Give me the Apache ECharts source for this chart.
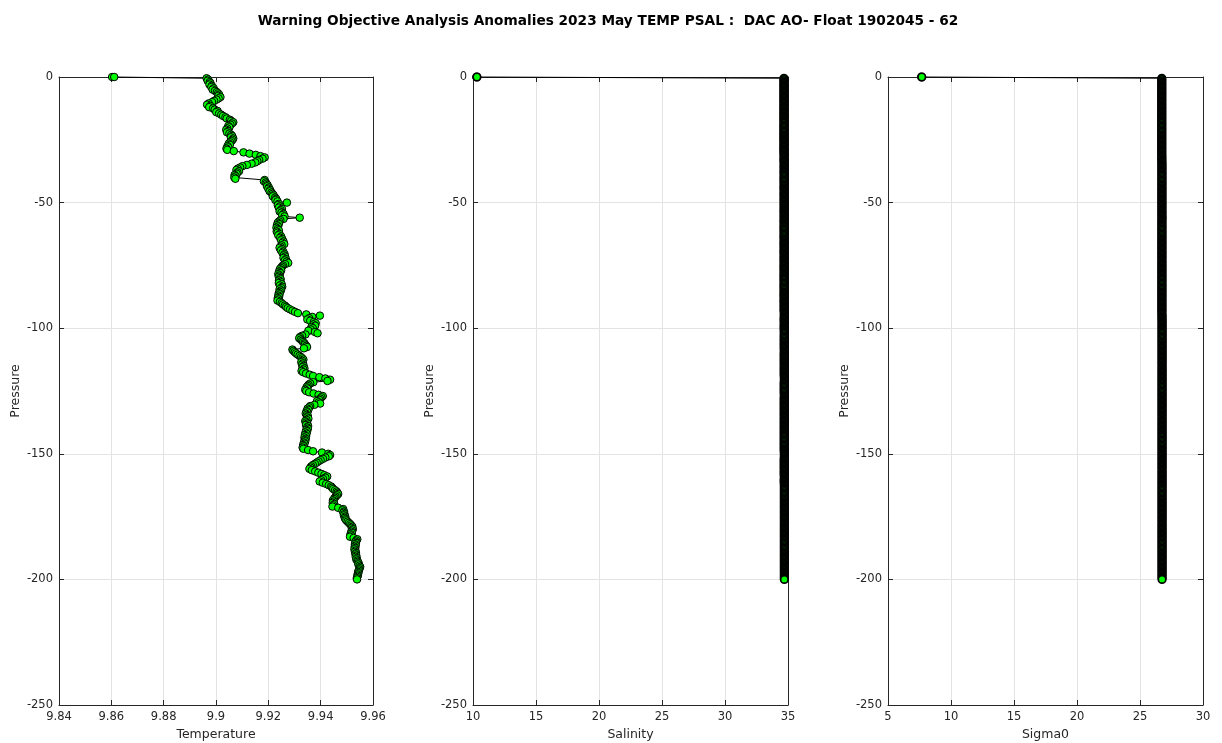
<!DOCTYPE html>
<html>
<head>
<meta charset="utf-8">
<title>TEMP PSAL profile</title>
<script src="https://cdn.jsdelivr.net/npm/echarts@6/dist/echarts.min.js"></script>
<style>
  html, body { margin: 0; padding: 0; background: #ffffff; }
  #chart { width: 1222px; height: 743px; }
</style>
</head>
<body>
<div id="chart"></div>
<script>
// Pressure levels (dbar, negative downward): two surface samples, then 0.5 dbar bins
const pressure = [
  0, 0,
  -0.5, -1, -1.5, -2, -2.5, -3, -3.5, -4, -4.5, -5,
  -5.5, -6, -6.5, -7, -7.5, -8, -8.5, -9, -9.5, -10,
  -10.5, -11, -11.5, -12, -12.5, -13, -13.5, -14, -14.5, -15,
  -15.5, -16, -16.5, -17, -17.5, -18, -18.5, -19, -19.5, -20,
  -20.5, -21, -21.5, -22, -22.5, -23, -23.5, -24, -24.5, -25,
  -25.5, -26, -26.5, -27, -27.5, -28, -28.5, -29, -29.5, -30,
  -30.5, -31, -31.5, -32, -32.5, -33, -33.5, -34, -34.5, -35,
  -35.5, -36, -36.5, -37, -37.5, -38, -38.5, -39, -39.5, -40,
  -40.5, -41, -41.5, -42, -42.5, -43, -43.5, -44, -44.5, -45,
  -45.5, -46, -46.5, -47, -47.5, -48, -48.5, -49, -49.5, -50,
  -50.5, -51, -51.5, -52, -52.5, -53, -53.5, -54, -54.5, -55,
  -55.5, -56, -56.5, -57, -57.5, -58, -58.5, -59, -59.5, -60,
  -60.5, -61, -61.5, -62, -62.5, -63, -63.5, -64, -64.5, -65,
  -65.5, -66, -66.5, -67, -67.5, -68, -68.5, -69, -69.5, -70,
  -70.5, -71, -71.5, -72, -72.5, -73, -73.5, -74, -74.5, -75,
  -75.5, -76, -76.5, -77, -77.5, -78, -78.5, -79, -79.5, -80,
  -80.5, -81, -81.5, -82, -82.5, -83, -83.5, -84, -84.5, -85,
  -85.5, -86, -86.5, -87, -87.5, -88, -88.5, -89, -89.5, -90,
  -90.5, -91, -91.5, -92, -92.5, -93, -93.5, -94, -94.5, -95,
  -95.5, -96, -96.5, -97, -97.5, -98, -98.5, -99, -99.5, -100,
  -100.5, -101, -101.5, -102, -102.5, -103, -103.5, -104, -104.5, -105,
  -105.5, -106, -106.5, -107, -107.5, -108, -108.5, -109, -109.5, -110,
  -110.5, -111, -111.5, -112, -112.5, -113, -113.5, -114, -114.5, -115,
  -115.5, -116, -116.5, -117, -117.5, -118, -118.5, -119, -119.5, -120,
  -120.5, -121, -121.5, -122, -122.5, -123, -123.5, -124, -124.5, -125,
  -125.5, -126, -126.5, -127, -127.5, -128, -128.5, -129, -129.5, -130,
  -130.5, -131, -131.5, -132, -132.5, -133, -133.5, -134, -134.5, -135,
  -135.5, -136, -136.5, -137, -137.5, -138, -138.5, -139, -139.5, -140,
  -140.5, -141, -141.5, -142, -142.5, -143, -143.5, -144, -144.5, -145,
  -145.5, -146, -146.5, -147, -147.5, -148, -148.5, -149, -149.5, -150,
  -150.5, -151, -151.5, -152, -152.5, -153, -153.5, -154, -154.5, -155,
  -155.5, -156, -156.5, -157, -157.5, -158, -158.5, -159, -159.5, -160,
  -160.5, -161, -161.5, -162, -162.5, -163, -163.5, -164, -164.5, -165,
  -165.5, -166, -166.5, -167, -167.5, -168, -168.5, -169, -169.5, -170,
  -170.5, -171, -171.5, -172, -172.5, -173, -173.5, -174, -174.5, -175,
  -175.5, -176, -176.5, -177, -177.5, -178, -178.5, -179, -179.5, -180,
  -180.5, -181, -181.5, -182, -182.5, -183, -183.5, -184, -184.5, -185,
  -185.5, -186, -186.5, -187, -187.5, -188, -188.5, -189, -189.5, -190,
  -190.5, -191, -191.5, -192, -192.5, -193, -193.5, -194, -194.5, -195,
  -195.5, -196, -196.5, -197, -197.5, -198, -198.5, -199, -199.5, -200
];

// Temperature anomaly profile
const temperature = [
  9.8603, 9.8611,
  9.8964, 9.8970, 9.8968, 9.8976, 9.8979, 9.8975, 9.8984, 9.8982, 9.8991, 9.8987,
  9.8996, 9.9003, 9.9008, 9.9012, 9.9009, 9.9017, 9.9010, 9.9002, 9.8993, 9.8985,
  9.8972, 9.8966, 9.8978, 9.8974, 9.8989, 9.8995, 9.9006, 9.9001, 9.9012, 9.9020,
  9.9027, 9.9036, 9.9041, 9.9053, 9.9058, 9.9066, 9.9061, 9.9055, 9.9047, 9.9051,
  9.9043, 9.9039, 9.9046, 9.9042, 9.9051, 9.9058, 9.9062, 9.9057, 9.9066, 9.9063,
  9.9059, 9.9054, 9.9049, 9.9053, 9.9044, 9.9047, 9.9040, 9.9043, 9.9068, 9.9105,
  9.9128, 9.9152, 9.9170, 9.9186, 9.9178, 9.9165, 9.9158, 9.9150, 9.9136, 9.9118,
  9.9101, 9.9092, 9.9083, 9.9078, 9.9088, 9.9082, 9.9079, 9.9071, 9.9075, 9.9070,
  9.9074, 9.9186, 9.9183, 9.9190, 9.9193, 9.9197, 9.9195, 9.9202, 9.9200, 9.9207,
  9.9205, 9.9212, 9.9216, 9.9220, 9.9217, 9.9226, 9.9230, 9.9227, 9.9235, 9.9271,
  9.9240, 9.9236, 9.9244, 9.9240, 9.9252, 9.9247, 9.9243, 9.9250, 9.9258, 9.9253,
  9.9262, 9.9320, 9.9258, 9.9246, 9.9241, 9.9236, 9.9240, 9.9233, 9.9237, 9.9231,
  9.9236, 9.9240, 9.9232, 9.9235, 9.9243, 9.9238, 9.9249, 9.9245, 9.9253, 9.9249,
  9.9258, 9.9254, 9.9261, 9.9251, 9.9246, 9.9243, 9.9252, 9.9248, 9.9257, 9.9254,
  9.9262, 9.9259, 9.9264, 9.9258, 9.9267, 9.9263, 9.9270, 9.9276, 9.9264, 9.9256,
  9.9252, 9.9248, 9.9244, 9.9249, 9.9241, 9.9245, 9.9238, 9.9242, 9.9240, 9.9245,
  9.9247, 9.9241, 9.9246, 9.9240, 9.9251, 9.9244, 9.9253, 9.9249, 9.9243, 9.9248,
  9.9244, 9.9240, 9.9243, 9.9238, 9.9241, 9.9236, 9.9239, 9.9235, 9.9244, 9.9251,
  9.9256, 9.9263, 9.9268, 9.9274, 9.9283, 9.9292, 9.9302, 9.9313, 9.9345, 9.9397,
  9.9368, 9.9356, 9.9349, 9.9360, 9.9374, 9.9381, 9.9372, 9.9379, 9.9365, 9.9370,
  9.9362, 9.9353, 9.9378, 9.9388, 9.9342, 9.9329, 9.9321, 9.9318, 9.9324, 9.9329,
  9.9333, 9.9338, 9.9340, 9.9345, 9.9348, 9.9336, 9.9292, 9.9296, 9.9301, 9.9306,
  9.9312, 9.9319, 9.9325, 9.9330, 9.9334, 9.9330, 9.9326, 9.9332, 9.9329, 9.9335,
  9.9331, 9.9338, 9.9334, 9.9327, 9.9333, 9.9344, 9.9358, 9.9371, 9.9395, 9.9418,
  9.9436, 9.9426, 9.9372, 9.9360, 9.9354, 9.9350, 9.9346, 9.9349, 9.9341, 9.9345,
  9.9356, 9.9373, 9.9392, 9.9408, 9.9403, 9.9398, 9.9394, 9.9386, 9.9393, 9.9398,
  9.9376, 9.9360, 9.9356, 9.9350, 9.9353, 9.9346, 9.9349, 9.9343, 9.9347, 9.9351,
  9.9348, 9.9353, 9.9346, 9.9341, 9.9345, 9.9349, 9.9344, 9.9352, 9.9348, 9.9351,
  9.9345, 9.9348, 9.9342, 9.9346, 9.9340, 9.9344, 9.9338, 9.9343, 9.9339, 9.9341,
  9.9336, 9.9338, 9.9333, 9.9335, 9.9331, 9.9334, 9.9352, 9.9371, 9.9405, 9.9429,
  9.9436, 9.9431, 9.9418, 9.9409, 9.9400, 9.9392, 9.9385, 9.9378, 9.9370, 9.9364,
  9.9361, 9.9357, 9.9366, 9.9379, 9.9391, 9.9403, 9.9414, 9.9425, 9.9418, 9.9409,
  9.9402, 9.9396, 9.9408, 9.9421, 9.9431, 9.9440, 9.9444, 9.9448, 9.9455, 9.9461,
  9.9464, 9.9467, 9.9462, 9.9457, 9.9454, 9.9451, 9.9447, 9.9450, 9.9446, 9.9452,
  9.9448, 9.9445, 9.9467, 9.9486, 9.9483, 9.9489, 9.9487, 9.9491, 9.9489, 9.9494,
  9.9492, 9.9495, 9.9498, 9.9503, 9.9508, 9.9513, 9.9517, 9.9521, 9.9519, 9.9523,
  9.9520, 9.9517, 9.9519, 9.9514, 9.9516, 9.9512, 9.9526, 9.9540, 9.9536, 9.9533,
  9.9535, 9.9531, 9.9534, 9.9530, 9.9532, 9.9529, 9.9533, 9.9531, 9.9535, 9.9533,
  9.9536, 9.9534, 9.9538, 9.9536, 9.9540, 9.9542, 9.9545, 9.9544, 9.9548, 9.9551,
  9.9549, 9.9547, 9.9546, 9.9543, 9.9544, 9.9541, 9.9542, 9.9540, 9.9538, 9.9539
];

// Salinity anomaly profile
const salinity = [
  10.30, 10.31,
  34.68, 34.68, 34.68, 34.68, 34.68, 34.68, 34.68, 34.68, 34.68, 34.68,
  34.68, 34.68, 34.68, 34.68, 34.68, 34.68, 34.68, 34.68, 34.68, 34.68,
  34.68, 34.68, 34.68, 34.68, 34.68, 34.68, 34.68, 34.68, 34.68, 34.68,
  34.68, 34.68, 34.68, 34.68, 34.68, 34.69, 34.68, 34.68, 34.68, 34.68,
  34.68, 34.68, 34.68, 34.68, 34.68, 34.68, 34.68, 34.68, 34.68, 34.68,
  34.68, 34.68, 34.69, 34.68, 34.68, 34.68, 34.68, 34.68, 34.68, 34.68,
  34.69, 34.68, 34.69, 34.69, 34.69, 34.68, 34.69, 34.69, 34.70, 34.69,
  34.69, 34.69, 34.70, 34.69, 34.69, 34.69, 34.69, 34.70, 34.69, 34.69,
  34.69, 34.69, 34.69, 34.69, 34.70, 34.69, 34.69, 34.69, 34.69, 34.69,
  34.70, 34.69, 34.69, 34.69, 34.69, 34.70, 34.69, 34.69, 34.69, 34.70,
  34.69, 34.69, 34.70, 34.69, 34.69, 34.69, 34.69, 34.69, 34.70, 34.69,
  34.69, 34.70, 34.69, 34.69, 34.69, 34.69, 34.70, 34.69, 34.69, 34.69,
  34.69, 34.69, 34.69, 34.70, 34.69, 34.69, 34.69, 34.69, 34.69, 34.70,
  34.69, 34.69, 34.69, 34.69, 34.69, 34.70, 34.69, 34.69, 34.69, 34.69,
  34.69, 34.70, 34.69, 34.69, 34.69, 34.69, 34.69, 34.70, 34.69, 34.69,
  34.69, 34.69, 34.69, 34.69, 34.70, 34.69, 34.69, 34.69, 34.69, 34.69,
  34.69, 34.69, 34.70, 34.69, 34.69, 34.69, 34.69, 34.69, 34.69, 34.70,
  34.69, 34.69, 34.69, 34.69, 34.69, 34.70, 34.69, 34.69, 34.69, 34.69,
  34.70, 34.69, 34.69, 34.70, 34.69, 34.69, 34.70, 34.70, 34.71, 34.70,
  34.70, 34.70, 34.69, 34.70, 34.70, 34.70, 34.70, 34.70, 34.69, 34.70,
  34.70, 34.70, 34.70, 34.71, 34.70, 34.70, 34.70, 34.70, 34.70, 34.70,
  34.70, 34.70, 34.70, 34.70, 34.70, 34.70, 34.70, 34.71, 34.70, 34.70,
  34.70, 34.70, 34.70, 34.70, 34.70, 34.70, 34.70, 34.70, 34.70, 34.70,
  34.70, 34.70, 34.70, 34.70, 34.70, 34.70, 34.70, 34.70, 34.71, 34.71,
  34.71, 34.71, 34.70, 34.70, 34.70, 34.70, 34.70, 34.70, 34.70, 34.70,
  34.70, 34.70, 34.71, 34.71, 34.70, 34.70, 34.70, 34.70, 34.70, 34.70,
  34.70, 34.70, 34.70, 34.70, 34.70, 34.70, 34.70, 34.70, 34.70, 34.70,
  34.70, 34.70, 34.70, 34.70, 34.70, 34.70, 34.70, 34.70, 34.70, 34.70,
  34.70, 34.70, 34.70, 34.70, 34.70, 34.70, 34.70, 34.70, 34.70, 34.70,
  34.70, 34.70, 34.70, 34.70, 34.70, 34.70, 34.70, 34.70, 34.71, 34.71,
  34.71, 34.71, 34.71, 34.70, 34.70, 34.70, 34.70, 34.70, 34.70, 34.70,
  34.70, 34.70, 34.70, 34.70, 34.70, 34.70, 34.70, 34.71, 34.71, 34.70,
  34.70, 34.70, 34.70, 34.71, 34.71, 34.71, 34.71, 34.71, 34.71, 34.71,
  34.71, 34.71, 34.71, 34.71, 34.71, 34.71, 34.71, 34.71, 34.71, 34.71,
  34.71, 34.71, 34.71, 34.71, 34.71, 34.71, 34.71, 34.71, 34.71, 34.71,
  34.71, 34.71, 34.71, 34.71, 34.71, 34.71, 34.71, 34.71, 34.71, 34.71,
  34.71, 34.71, 34.71, 34.71, 34.71, 34.71, 34.71, 34.71, 34.71, 34.71,
  34.71, 34.71, 34.71, 34.71, 34.71, 34.71, 34.71, 34.71, 34.71, 34.71,
  34.71, 34.71, 34.71, 34.71, 34.71, 34.71, 34.71, 34.71, 34.71, 34.71,
  34.71, 34.71, 34.71, 34.71, 34.71, 34.71, 34.71, 34.71, 34.71, 34.71
];

// Potential density anomaly profile
const sigma0 = [
  7.67, 7.68,
  26.73, 26.73, 26.73, 26.73, 26.73, 26.73, 26.73, 26.73, 26.73, 26.73,
  26.73, 26.73, 26.73, 26.73, 26.73, 26.73, 26.73, 26.73, 26.73, 26.73,
  26.73, 26.73, 26.73, 26.73, 26.73, 26.73, 26.73, 26.73, 26.73, 26.73,
  26.73, 26.73, 26.73, 26.73, 26.73, 26.73, 26.73, 26.73, 26.73, 26.73,
  26.73, 26.73, 26.73, 26.73, 26.73, 26.73, 26.73, 26.73, 26.73, 26.73,
  26.73, 26.73, 26.73, 26.73, 26.73, 26.73, 26.73, 26.73, 26.73, 26.73,
  26.73, 26.73, 26.74, 26.73, 26.73, 26.74, 26.73, 26.74, 26.74, 26.74,
  26.74, 26.74, 26.74, 26.74, 26.74, 26.74, 26.74, 26.74, 26.74, 26.74,
  26.74, 26.74, 26.74, 26.74, 26.74, 26.74, 26.74, 26.74, 26.74, 26.74,
  26.74, 26.74, 26.74, 26.74, 26.74, 26.74, 26.74, 26.74, 26.74, 26.74,
  26.74, 26.74, 26.74, 26.74, 26.74, 26.74, 26.74, 26.74, 26.74, 26.74,
  26.74, 26.75, 26.74, 26.74, 26.74, 26.74, 26.74, 26.74, 26.74, 26.74,
  26.74, 26.74, 26.74, 26.74, 26.74, 26.74, 26.74, 26.74, 26.74, 26.74,
  26.74, 26.74, 26.74, 26.74, 26.74, 26.74, 26.74, 26.74, 26.74, 26.74,
  26.74, 26.74, 26.74, 26.74, 26.74, 26.74, 26.74, 26.74, 26.74, 26.74,
  26.74, 26.74, 26.74, 26.74, 26.74, 26.74, 26.74, 26.74, 26.74, 26.74,
  26.74, 26.74, 26.74, 26.74, 26.74, 26.74, 26.74, 26.74, 26.74, 26.74,
  26.74, 26.74, 26.74, 26.74, 26.74, 26.74, 26.74, 26.74, 26.74, 26.74,
  26.74, 26.74, 26.74, 26.74, 26.74, 26.74, 26.74, 26.74, 26.74, 26.75,
  26.75, 26.74, 26.75, 26.75, 26.75, 26.75, 26.75, 26.75, 26.75, 26.75,
  26.75, 26.75, 26.75, 26.75, 26.75, 26.75, 26.75, 26.75, 26.75, 26.75,
  26.75, 26.75, 26.75, 26.75, 26.75, 26.75, 26.75, 26.75, 26.75, 26.75,
  26.75, 26.75, 26.75, 26.75, 26.75, 26.75, 26.75, 26.75, 26.75, 26.75,
  26.75, 26.75, 26.75, 26.75, 26.75, 26.75, 26.75, 26.75, 26.75, 26.75,
  26.75, 26.75, 26.75, 26.75, 26.75, 26.75, 26.75, 26.75, 26.75, 26.75,
  26.75, 26.75, 26.75, 26.75, 26.75, 26.75, 26.75, 26.75, 26.75, 26.75,
  26.75, 26.75, 26.75, 26.75, 26.75, 26.75, 26.75, 26.75, 26.75, 26.75,
  26.75, 26.75, 26.75, 26.75, 26.75, 26.75, 26.75, 26.75, 26.75, 26.75,
  26.75, 26.75, 26.75, 26.75, 26.75, 26.75, 26.75, 26.75, 26.75, 26.75,
  26.75, 26.75, 26.75, 26.75, 26.75, 26.75, 26.75, 26.75, 26.75, 26.75,
  26.75, 26.75, 26.75, 26.75, 26.75, 26.75, 26.75, 26.75, 26.75, 26.75,
  26.75, 26.75, 26.75, 26.75, 26.75, 26.75, 26.75, 26.75, 26.75, 26.75,
  26.75, 26.75, 26.75, 26.75, 26.75, 26.75, 26.75, 26.75, 26.75, 26.75,
  26.75, 26.75, 26.75, 26.75, 26.75, 26.75, 26.75, 26.75, 26.75, 26.75,
  26.75, 26.75, 26.75, 26.75, 26.75, 26.75, 26.75, 26.75, 26.75, 26.75,
  26.75, 26.75, 26.75, 26.75, 26.75, 26.75, 26.75, 26.75, 26.75, 26.75,
  26.75, 26.75, 26.75, 26.75, 26.75, 26.75, 26.75, 26.75, 26.75, 26.75,
  26.75, 26.75, 26.75, 26.75, 26.75, 26.75, 26.75, 26.75, 26.75, 26.75,
  26.75, 26.75, 26.75, 26.75, 26.75, 26.75, 26.75, 26.75, 26.75, 26.75,
  26.75, 26.75, 26.75, 26.75, 26.75, 26.75, 26.75, 26.75, 26.75, 26.75
];

// Axis settings for each panel
const panelNames = ['Temperature', 'Salinity', 'Sigma0'];
const panelValues = [temperature, salinity, sigma0];
const xMin = [9.84, 10, 5];
const xMax = [9.96, 35, 30];
const xStep = [0.02, 5, 5];
const yMin = -250, yMax = 0, yStep = 50;

const chartTitle = 'Warning Objective Analysis Anomalies 2023 May TEMP PSAL :  DAC AO- Float 1902045 - 62';

const FONT = 'DejaVu Sans';
const AXIS_COLOR = '#262626';
const GRID_COLOR = '#e3e3e3';

const gridBoxes = [
  { left: 59, top: 77, width: 314, height: 628 },
  { left: 473, top: 77, width: 315, height: 628 },
  { left: 888, top: 77, width: 315, height: 628 }
];
// Marker edge width per panel: the tightly stacked salinity/density columns read as solid edge
const edgeWidth = [1, 1.7, 1.7];

const grids = [], xAxes = [], yAxes = [], series = [];

panelNames.forEach((name, i) => {
  grids.push(Object.assign({ containLabel: false, outerBoundsMode: 'none' }, gridBoxes[i]));

  const baseX = {
    type: 'value', gridIndex: i,
    min: xMin[i], max: xMax[i], interval: xStep[i],
    axisLine: { show: true, onZero: false, lineStyle: { color: AXIS_COLOR, width: 1 } },
    axisTick: { show: true, inside: true, length: 5, lineStyle: { color: AXIS_COLOR } }
  };
  xAxes.push(Object.assign({}, baseX, {
    position: 'bottom',
    name: name, nameLocation: 'middle', nameGap: 20,
    nameTextStyle: { fontFamily: FONT, fontSize: 12.5, color: AXIS_COLOR },
    axisLabel: {
      fontFamily: FONT, fontSize: 11.5, color: AXIS_COLOR, margin: 6,
      formatter: v => String(parseFloat(v.toFixed(4)))
    },
    splitLine: { show: true, lineStyle: { color: GRID_COLOR, width: 1 } }
  }));
  xAxes.push(Object.assign({}, baseX, {
    position: 'top',
    axisLabel: { show: false },
    splitLine: { show: false }
  }));

  const baseY = {
    type: 'value', gridIndex: i,
    min: yMin, max: yMax, interval: yStep,
    axisLine: { show: true, onZero: false, lineStyle: { color: AXIS_COLOR, width: 1 } },
    axisTick: { show: true, inside: true, length: 5, lineStyle: { color: AXIS_COLOR } }
  };
  yAxes.push(Object.assign({}, baseY, {
    position: 'left',
    name: 'Pressure', nameLocation: 'middle', nameGap: 37,
    nameTextStyle: { fontFamily: FONT, fontSize: 12.5, color: AXIS_COLOR },
    axisLabel: { fontFamily: FONT, fontSize: 11.5, color: AXIS_COLOR, margin: 6 },
    splitLine: { show: true, lineStyle: { color: GRID_COLOR, width: 1 } }
  }));
  yAxes.push(Object.assign({}, baseY, {
    position: 'right',
    axisLabel: { show: false },
    splitLine: { show: false }
  }));

  series.push({
    type: 'line',
    name: name,
    xAxisIndex: i * 2,
    yAxisIndex: i * 2,
    data: panelValues[i].map((v, k) => [v, pressure[k]]),
    showSymbol: true,
    showAllSymbol: true,
    symbol: 'circle',
    symbolSize: 7.5,
    lineStyle: { color: '#000000', width: 1 },
    itemStyle: { color: '#00ff00', borderColor: '#000000', borderWidth: edgeWidth[i] },
    emphasis: { disabled: true },
    silent: true,
    clip: false
  });
});

const chart = echarts.init(document.getElementById('chart'), null, { renderer: 'canvas' });
chart.setOption({
  animation: false,
  backgroundColor: '#ffffff',
  title: {
    text: chartTitle,
    left: 603, top: 9, textAlign: 'center',
    textStyle: { fontFamily: FONT, fontSize: 13.7, fontWeight: 'bold', color: '#000000' }
  },
  grid: grids,
  xAxis: xAxes,
  yAxis: yAxes,
  series: series
});
</script>
</body>
</html>
